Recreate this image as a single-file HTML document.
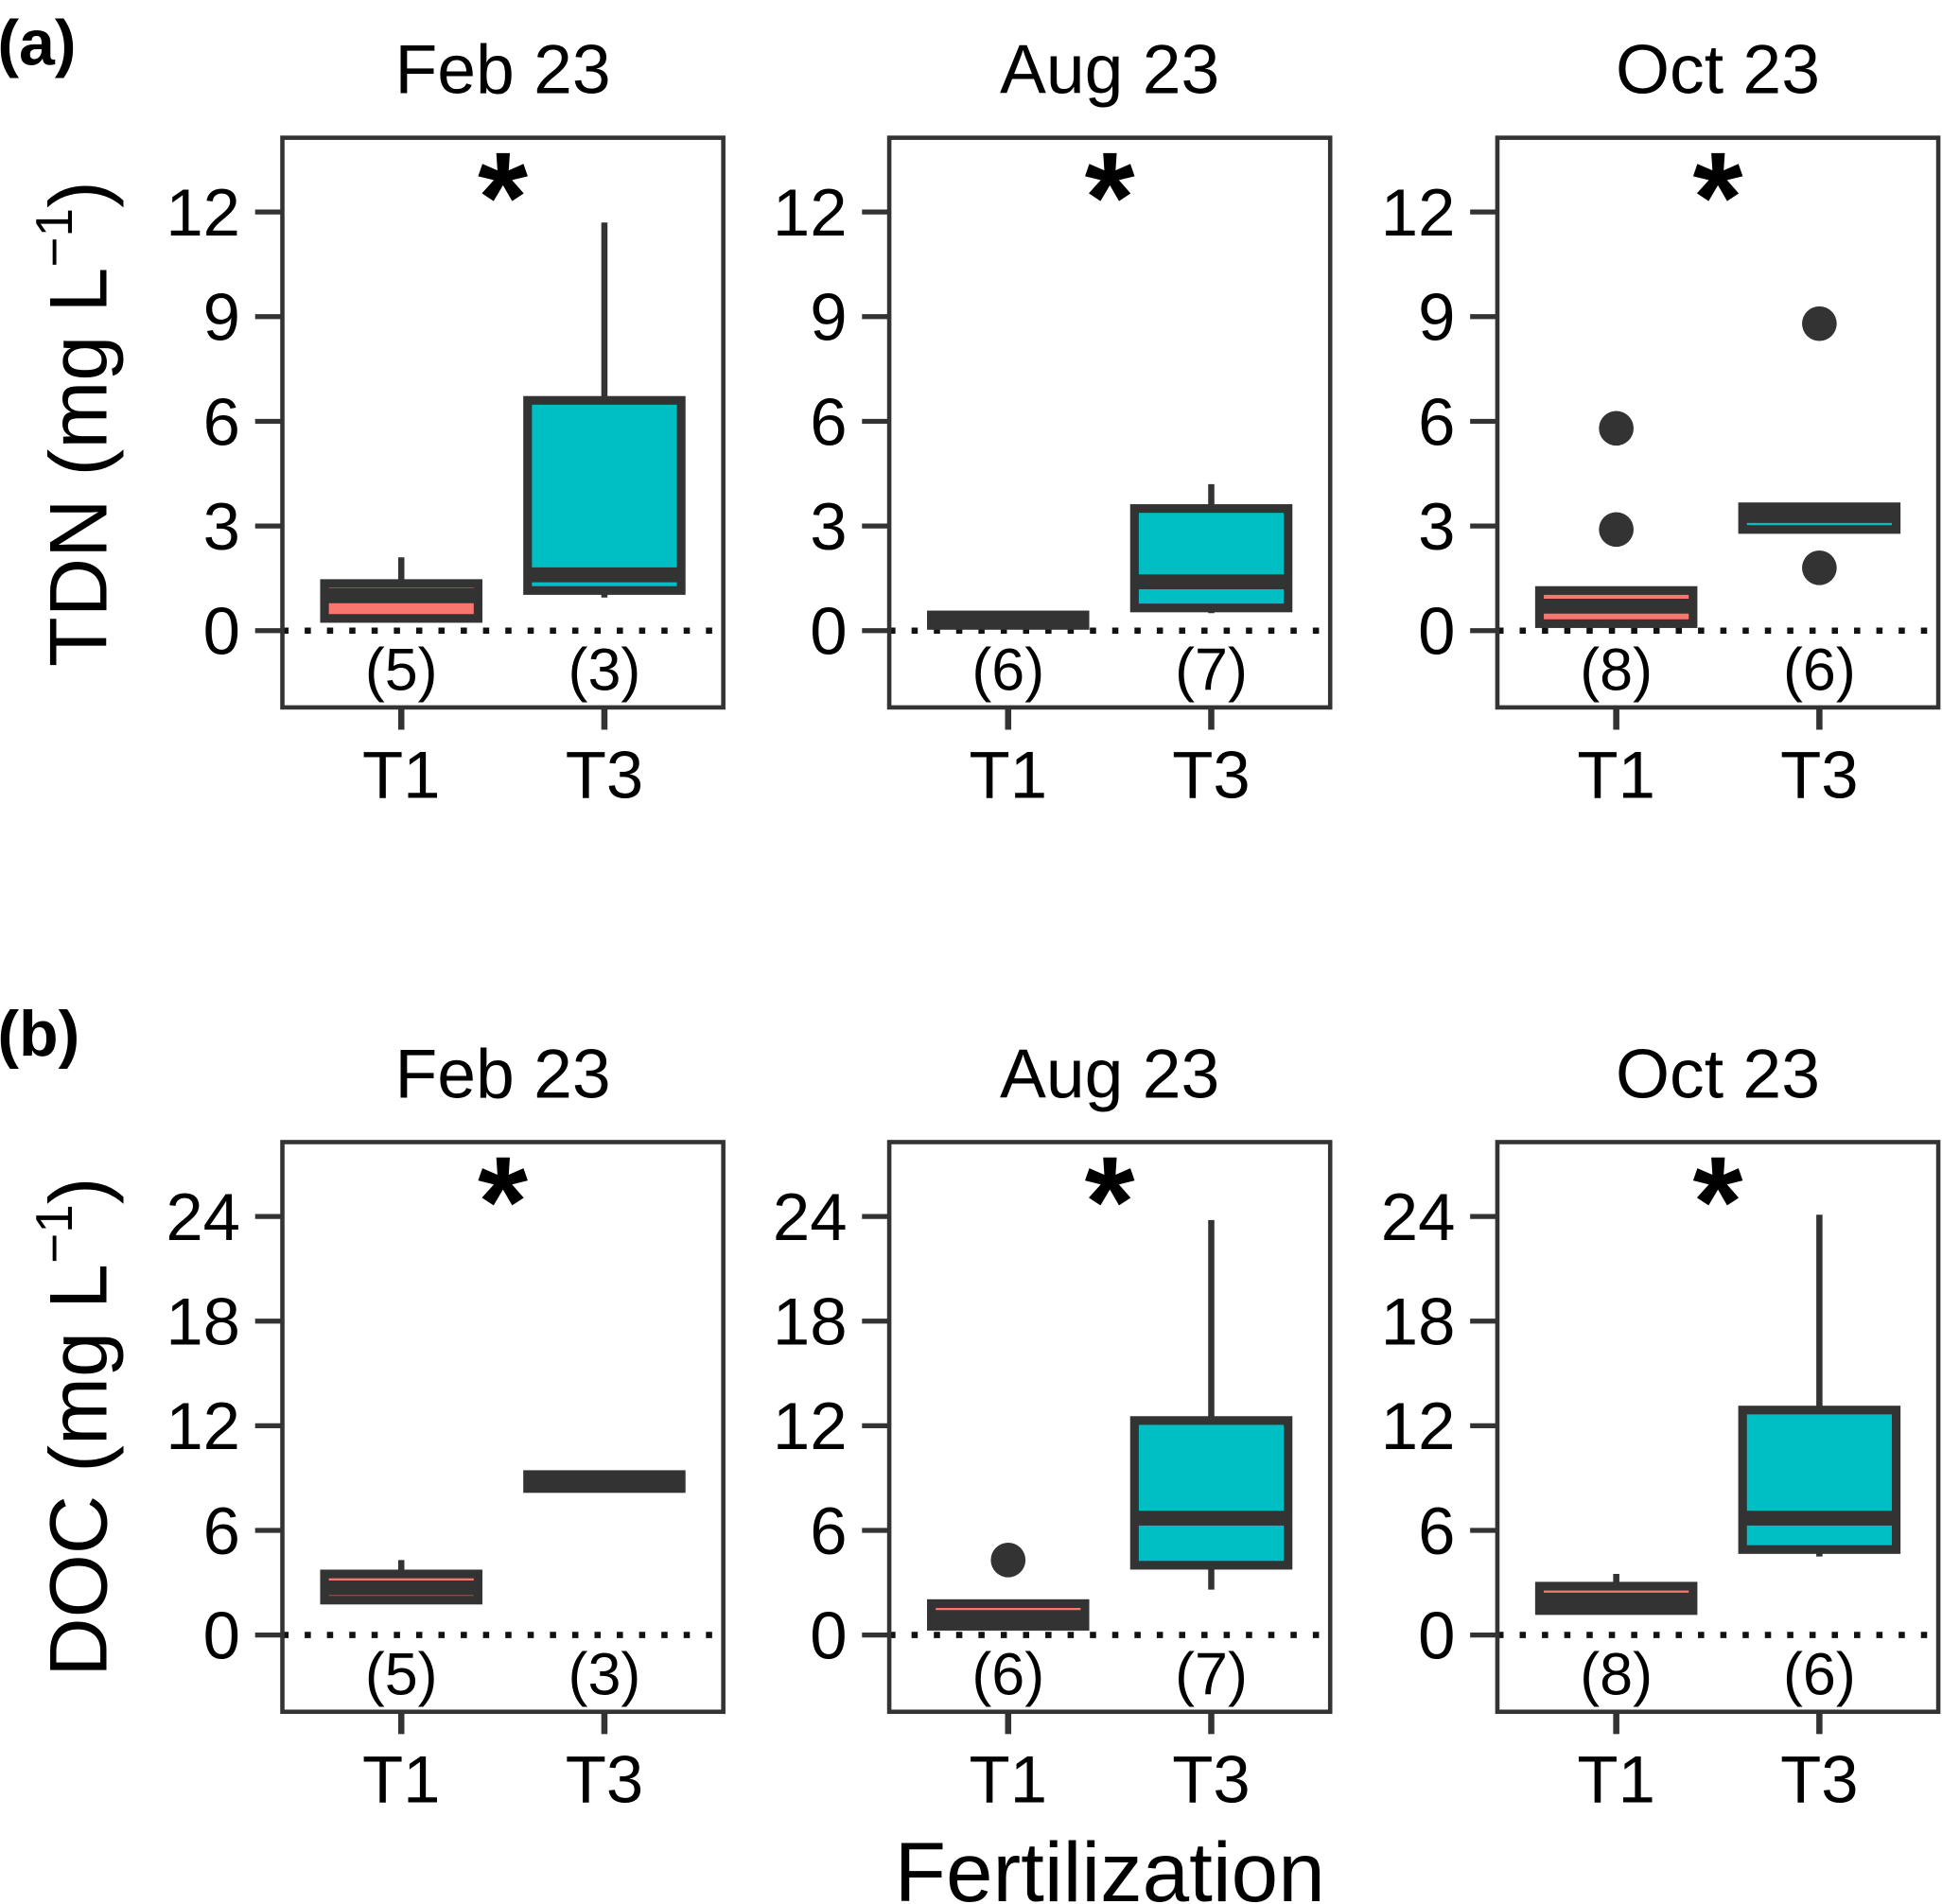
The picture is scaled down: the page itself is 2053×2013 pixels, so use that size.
<!DOCTYPE html>
<html><head><meta charset="utf-8"><style>
html,body{margin:0;padding:0;background:#fff}
svg{display:block}
text{font-family:"Liberation Sans",Arial,sans-serif;fill:#000}
</style></head><body>
<svg id="chart" width="2053" height="2013" viewBox="0 0 1568 1537" xmlns="http://www.w3.org/2000/svg">
<text x="-2" y="52" font-size="52" font-weight="bold">(a)</text>
<text x="-2" y="852" font-size="52" font-weight="bold">(b)</text>
<text x="896" y="1535" font-size="68" text-anchor="middle">Fertilization</text>
<text transform="translate(86,342) rotate(-90)" font-size="66" text-anchor="middle">TDN (mg L<tspan dy="-28" font-size="42">−1</tspan><tspan dy="28">)</tspan></text>
<text transform="translate(86,1152) rotate(-90)" font-size="66" text-anchor="middle">DOC (mg L<tspan dy="-28" font-size="42">−1</tspan><tspan dy="28">)</tspan></text>
</svg>
<script>
const months = ["Feb 23","Aug 23","Oct 23"];
const groups = ["T1","T3"];
const counts = [[5,3],[6,7],[8,6]];
// [lowWhisker, q1, median, q3, highWhisker]
const tdnStats = [
  [[0.35,0.35,1.0,1.35,2.1],[0.95,1.15,1.6,6.6,11.7]],
  [[0.15,0.15,0.3,0.45,0.45],[0.5,0.65,1.4,3.5,4.2]],
  [[0.2,0.2,0.7,1.15,1.15],[2.9,2.9,3.3,3.55,3.55]]
];
const tdnOutliers = [[[],[]],[[],[]],[[5.8,2.9],[8.8,1.8]]];
const docStats = [
  [[1.8,2.0,2.7,3.5,4.3],[8.2,8.4,8.8,9.2,9.2]],
  [[0.5,0.5,1.0,1.8,1.8],[2.6,4.0,6.7,12.3,23.8]],
  [[1.3,1.4,2.0,2.8,3.5],[4.5,4.9,6.7,12.9,24.1]]
];
const docOutliers = [[[],[]],[[4.3],[]],[[],[]]];
const tdnTicks = [0,3,6,9,12];
const docTicks = [0,6,12,18,24];

const NS="http://www.w3.org/2000/svg";
const svg=document.getElementById('chart');
function mk(tag,attrs,parent){const e=document.createElementNS(NS,tag);for(const k in attrs)e.setAttribute(k,attrs[k]);(parent||svg).appendChild(e);return e;}
const colors=["#f8766d","#00bfc4"];
const panelX=[228,718,1209], panelW=356;
function drawRow(top, zeroY, pxPerUnit, stats, outs, ticks, rowName){
  const y=v=>zeroY-v*pxPerUnit;
  const bottom=top+460;
  months.forEach((m,mi)=>{
    const px=panelX[mi];
    const g=mk('g',{});
    
    
    const t=mk('text',{x:px+panelW/2,y:top-36,'font-size':56,'text-anchor':'middle',fill:'#1a1a1a'},g);
    t.textContent=m;
    
    
    const xs=[px+96,px+260];
    ticks.forEach(tv=>{
      mk('line',{x1:px-22,x2:px,y1:y(tv),y2:y(tv),stroke:'#333','stroke-width':4},g);
      const tl=mk('text',{x:px-34,y:y(tv)+19,'font-size':54,'text-anchor':'end'},g);
      tl.textContent=tv;
      
      
    });
    mk('line',{x1:px,x2:px+panelW,y1:y(0),y2:y(0),stroke:'#111','stroke-width':5,'stroke-dasharray':'5 13'},g);
    groups.forEach((gr,gi)=>{
      const cx=xs[gi], s=stats[mi][gi], hw=62;
      mk('line',{x1:cx,x2:cx,y1:y(s[0]),y2:y(s[4]),stroke:'#333','stroke-width':5},g);
      const b=mk('rect',{x:cx-hw,y:y(s[3]),width:2*hw,height:Math.max(y(s[1])-y(s[3]),1),fill:colors[gi],stroke:'#333','stroke-width':7},g);
      
      
      mk('line',{x1:cx-hw,x2:cx+hw,y1:y(s[2]),y2:y(s[2]),stroke:'#333','stroke-width':12},g);
      outs[mi][gi].forEach(o=>{
        const c=mk('circle',{cx:cx,cy:y(o),r:14,fill:'#333'},g);
        
        
      });
      const n=mk('text',{x:cx,y:y(0)+48,'font-size':48,'text-anchor':'middle'},g);
      n.textContent='('+counts[mi][gi]+')';
      
      
      mk('line',{x1:cx,x2:cx,y1:bottom,y2:bottom+18,stroke:'#333','stroke-width':5},g);
      const xl=mk('text',{x:cx,y:bottom+73,'font-size':54,'text-anchor':'middle'},g);
      xl.textContent=gr;
      
      
    });
    const st=mk('text',{x:px+178,y:top+84,'font-size':104,'font-weight':'bold','text-anchor':'middle'},g);
    st.textContent='*';
    
    
    mk('rect',{x:px,y:top,width:panelW,height:460,fill:'none',stroke:'#333','stroke-width':3.5},g);
  });
}
drawRow(111,509,28.17,tdnStats,tdnOutliers,tdnTicks,'tdn');
drawRow(922,1320,14.08,docStats,docOutliers,docTicks,'doc');
</script>
</body></html>
